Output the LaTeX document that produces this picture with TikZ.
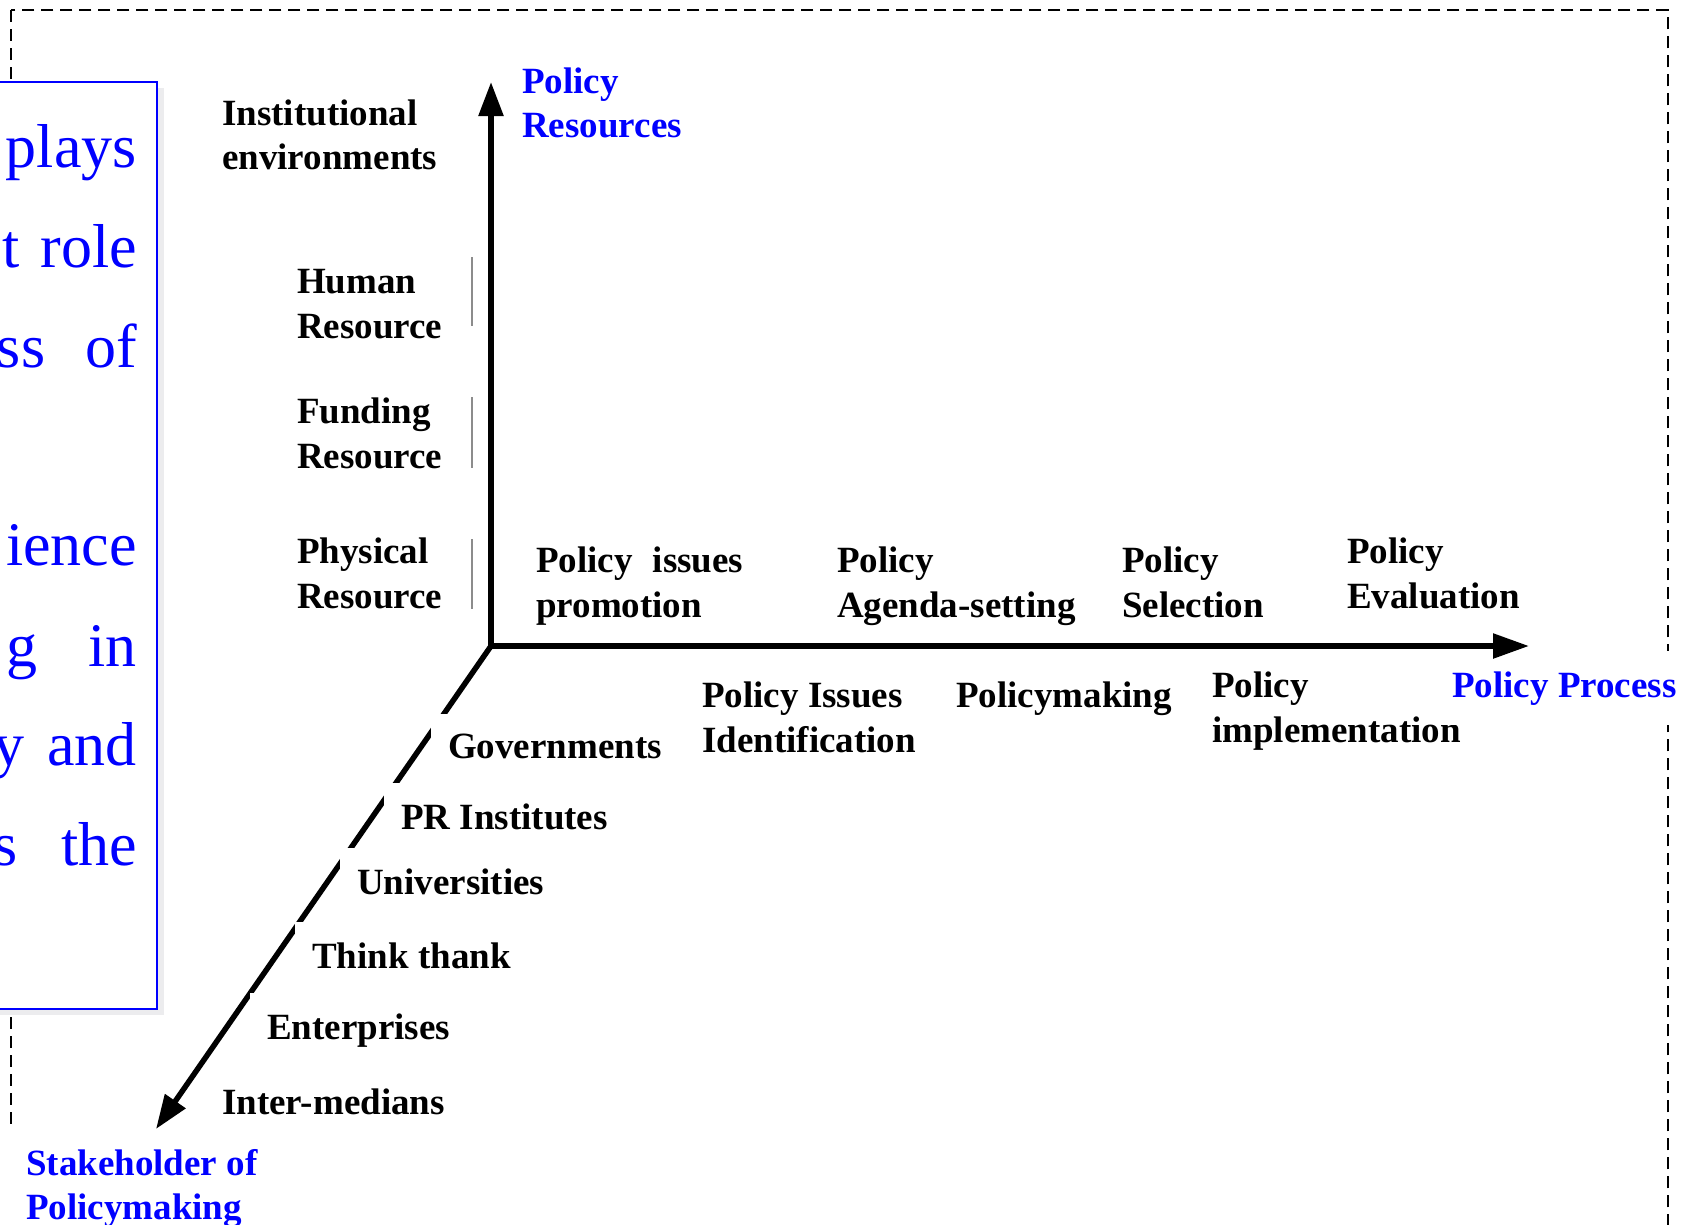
\documentclass[tikz,border=0pt]{standalone}
\usepackage{fontspec}
\setmainfont{Liberation Serif}
\usetikzlibrary{arrows.meta}
\newcommand\lblfont{\bfseries\fontsize{37}{44.5}\selectfont}
\newcommand\bigblue{\fontsize{62}{70}\selectfont}
\definecolor{pureblue}{RGB}{0,0,255}
\definecolor{shadowgray}{RGB}{236,236,238}
\begin{document}
\begin{tikzpicture}[x=1pt,y=-1pt,
  lbl/.style={font=\lblfont, align=left, inner xsep=17pt, inner ysep=20pt, anchor=base west},
  lblw/.style={lbl, fill=white},
  bluelbl/.style={text=pureblue},
  boxtxt/.style={font=\bigblue, text=pureblue, inner sep=0pt, anchor=base east},
  axis/.style={line width=5.5pt},
  tip/.style={-{Triangle[length=34pt,width=24pt]}},
  thinmark/.style={line width=1.3pt, draw=black!45},
  frame/.style={line width=1.8pt, dash pattern=on 12pt off 7pt}
]
\useasboundingbox (0,0) rectangle (1706,1224);
\clip (0,0) rectangle (1706,1224);

% dashed outer frame
\draw[frame] (10.7,10) rectangle (1668,1300);

% blue text box with shadow
\fill[shadowgray] (-44,88) rectangle (164,1015);
\draw[pureblue, line width=2pt, fill=white] (-50,82) rectangle (157,1009);
\node[boxtxt] (b1) at (137,167) {plays};
\node[boxtxt] (b2) at (137,267) {t\hspace{21pt}role};
\node[boxtxt] (b3) at (137,367) {ss\hspace{40pt}of};
\node[boxtxt] (b4) at (137,565) {ience};
\node[boxtxt] (b5) at (137,666) {g\hspace{51pt}in};
\node[boxtxt] (b6) at (137,765) {y\hspace{23pt}and};
\node[boxtxt] (b7) at (137,865) {s\hspace{43pt}the};

% axes coordinates
\coordinate (O) at (491,646);
\coordinate (ytip) at (491,82);
\coordinate (xtip) at (1529,646);
\coordinate (ztip) at (156,1129);

% diagonal (stakeholder) axis, drawn under the labels
\draw[axis, tip, line cap=round] (O) -- (ztip);

% resource labels (two-line nodes: position is the baseline of the last line)
\node[lbl, bluelbl] (polres) at (505,137.5) {Policy\\Resources};
\node[lbl] (inst) at (205,169.5) {Institutional\\environments};
\node[lbl] (human) at (280,338) {Human\\Resource};
\node[lbl] (fund) at (280,468) {Funding\\Resource};
\node[lbl] (phys) at (280,608) {Physical\\Resource};

% process labels above axis
\node[lbl] (pip) at (519,617) {Policy\hspace{20pt}issues\\promotion};
\node[lbl] (pas) at (820,617) {Policy\\Agenda-setting};
\node[lbl] (psel) at (1105,617) {Policy\\Selection};
\node[lbl] (peval) at (1330,608) {Policy\\Evaluation};

% process labels below axis
\node[lbl] (pii) at (685,752) {Policy Issues\\Identification};
\node[lbl] (pmk) at (939,707) {Policymaking};
\node[lbl] (pimpl) at (1195,742) {Policy\\implementation};
\node[lblw, bluelbl] (pproc) at (1435,697) {Policy Process};

% stakeholder labels
\node[lblw] (gov) at (431,758) {Governments};
\node[lblw] (pri) at (384,829) {PR Institutes};
\node[lblw] (uni) at (340,894) {Universities};
\node[lblw] (think) at (295,968) {Think thank};
\node[lblw] (ent) at (250,1039) {Enterprises};
\node[lblw] (inter) at (205,1114) {Inter-medians};
\node[lblw, bluelbl, inner xsep=20pt] (stake) at (6,1219.5) {Stakeholder of\\Policymaking};

% thin marks beside resource labels
\draw[thinmark] (472,257) -- (472,326);
\draw[thinmark] (472,397) -- (472,468);
\draw[thinmark] (472,539) -- (472,609);

% main L-shaped axes
\draw[axis, {Triangle[length=34pt,width=24pt]}-{Triangle[length=36pt,width=24pt]}] (ytip) -- (O) -- (xtip);
\end{tikzpicture}
\end{document}
